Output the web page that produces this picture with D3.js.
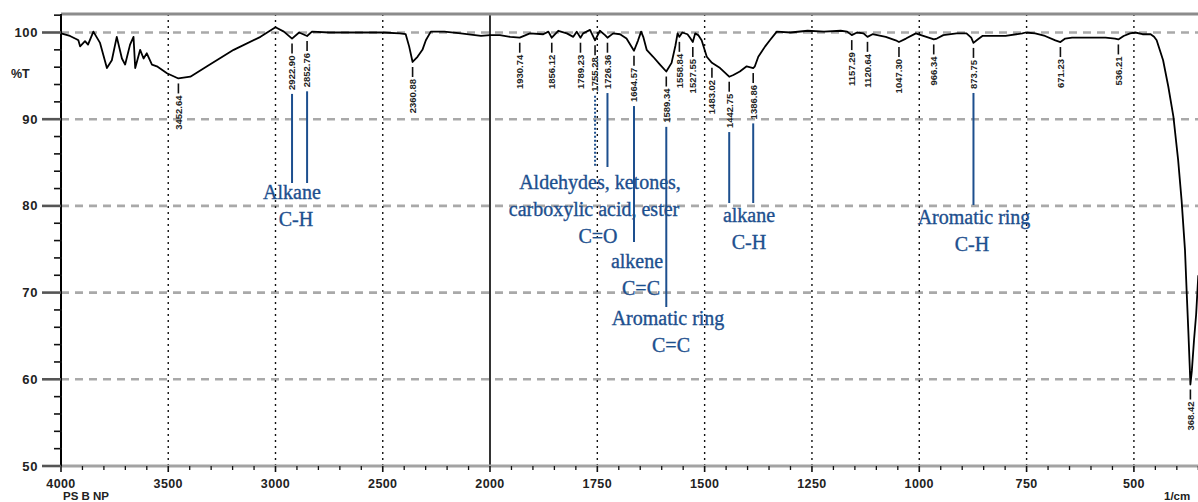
<!DOCTYPE html>
<html><head><meta charset="utf-8">
<script src="https://cdn.jsdelivr.net/npm/d3@7"></script>
<style>body{margin:0;background:#fff;overflow:hidden}svg{display:block}</style>
</head><body>
<svg id="chart" width="1198" height="502"></svg>
<script>
// ---------- DATA ----------
const wavenumbers = [4000,3958,3925,3919,3911,3888,3874,3849,3818,3786,3763,3740,3716,3701,3678,3662,3654,3631,3615,3600,3576,3553,3506,3452.64,3397,3319,3195,3070,3000,2961,2922.90,2890,2852.76,2830,2750,2600,2500,2420,2393,2377,2360.88,2338,2315,2299,2276,2213,2136,2042,2000,
1977,1953,1930.74,1907,1876,1864,1856.12,1841,1821,1806,1798,1789.23,1783,1767,1755.28,1744,1732,1726.36,1713,1697,1682,1664.57,1655,1648,1643,1635,1620,1604,1589.34,1577,1568,1563,1558.84,1552,1540,1534,1527.55,1522,1515,1507,1495,1483.02,1464,1442.75,1433,1418,1402,1386.86,1383,1375,1359,1348,1332,1300,1260,1222,1183,1168,1157.29,1145,1130,1120.64,1109,1078,1055,1047.30,1031,1008,996,971,966.34,959,944,913,890,879,873.75,864,853,799,760,752,730,707,683,671.23,660,644,605,566,544,536.21,524,509,497,480,461,453,447,432,420,408,397,389,381,377,373,370,368.42,365,360,355,350];
const transmittance = [99.9,99.6,99.2,99.1,98.4,99.0,98.6,100.1,98.8,95.9,96.8,99.5,97.0,96.3,98.6,99.5,95.9,98.0,97.0,97.6,96.3,96.1,95.3,94.7,94.9,96.1,98.0,99.5,100.6,100.1,99.3,100.0,99.6,100.1,100.0,100.0,100.0,99.9,99.8,98.4,96.6,97.2,98.0,99.1,100.1,100.1,99.9,99.6,99.7,
99.7,99.5,99.4,99.9,99.8,100.1,99.4,100.2,99.9,99.5,100.1,99.4,99.9,100.3,99.1,100.2,99.7,99.4,99.9,99.8,99.3,97.9,99.1,100.1,99.5,98.0,97.2,96.3,95.5,96.5,98.5,99.9,99.5,100.0,99.8,99.4,98.9,99.9,99.7,99.1,97.2,96.5,95.9,94.9,95.1,95.5,96.1,95.9,96.1,97.2,98.4,99.1,100.1,100.0,100.2,100.1,100.2,100.1,99.7,100.0,99.9,99.5,99.8,99.5,99.1,98.9,99.3,99.9,99.7,99.3,99.2,99.3,99.7,99.9,99.9,99.4,98.8,99.2,99.6,99.6,99.9,100.0,99.9,99.6,99.1,98.9,99.3,99.4,99.4,99.4,99.3,99.2,99.6,99.9,100.0,99.8,99.8,99.5,99.1,96.8,93.8,90.3,85.3,80.7,74.9,70.0,65.3,61.5,59.4,61.0,64.5,67.5,72.0];
const peakLabels = ["3452.64","2922.90","2852.76","2360.88","1930.74","1856.12","1789.23","1755.28","1726.36","1664.57","1589.34","1558.84","1527.55","1483.02","1442.75","1386.86","1157.29","1120.64","1047.30","966.34","873.75","671.23","536.21","368.42"];
const xTickValues = [4000,3500,3000,2500,2000,1750,1500,1250,1000,750,500];
const yTickValues = [50,60,70,80,90,100];
const annotationWn = [[2922.90,2852.76],[1755.28,1726.36],[1664.57],[1589.34],[1442.75,1386.86],[873.75]];
const annotationText = [["Alkane","C-H"],["Aldehydes, ketones,","carboxylic acid, ester","C=O"],["alkene","C=C"],["Aromatic ring","C=C"],["alkane","C-H"],["Aromatic ring","C-H"]];
const xAxisTitle = "1/cm";
const yAxisTitle = "%T";
const sampleName = "PS B NP";

(function(){
// ---------- LAYOUT ----------
const W = 1198;
const pLeft = 61, pRight = 1198.3, pTop = 14, pBottom = 466;
const annoLayout = [
  {cx:[292,296], y0:199, lineEnd:183, dotted:[false,false]},
  {cx:[600,594,598], y0:189, lineEnd:167, dotted:[true,false]},
  {cx:[637,641], y0:268, lineEnd:242, dotted:[false]},
  {cx:[668,671], y0:325, lineEnd:307, dotted:[false]},
  {cx:[749,749], y0:222, lineEnd:203, dotted:[false,false]},
  {cx:[974,972], y0:224, lineEnd:205, dotted:[false]}
];
const blue = "#1d4f8e";
const sans = "Liberation Sans, Arial, sans-serif";

const svg = d3.select("#chart");
const x = d3.scaleLinear().domain([4000,2000,350]).range([pLeft,490,pRight]);
const y = d3.scaleLinear().domain([50,100]).range([pBottom,32.5]);
const data = wavenumbers.map((w,i)=>({w, t: transmittance[i]}));
const valueAt = w => {
  for (let i=0;i<data.length-1;i++){
    const a=data[i], b=data[i+1];
    if (w<=a.w && w>=b.w){ const f=(a.w-w)/(a.w-b.w||1); return a.t+(b.t-a.t)*f; }
  }
  return data[data.length-1].t;
};

svg.append("g").selectAll("line").data(yTickValues.filter(v=>v>50)).join("line")
  .attr("x1",pLeft).attr("x2",W).attr("y1",d=>y(d)).attr("y2",d=>y(d))
  .attr("stroke","#a9a9a9").attr("stroke-width",2.6).attr("stroke-dasharray","8,6");

svg.append("g").selectAll("line").data(xTickValues.filter(v=>v!==4000 && v!==2000)).join("line")
  .attr("x1",d=>x(d)).attr("x2",d=>x(d)).attr("y1",pTop).attr("y2",pBottom)
  .attr("stroke","#111").attr("stroke-width",1.4).attr("stroke-dasharray","2,4");

svg.append("line").attr("x1",x(2000)).attr("x2",x(2000)).attr("y1",pTop).attr("y2",pBottom)
  .attr("stroke","#000").attr("stroke-width",1.6);

svg.append("line").attr("x1",pLeft).attr("x2",W).attr("y1",pTop).attr("y2",pTop)
  .attr("stroke","#8c8c8c").attr("stroke-width",3.2);

svg.append("line").attr("x1",pLeft).attr("x2",W).attr("y1",pBottom).attr("y2",pBottom)
  .attr("stroke","#a3a3a3").attr("stroke-width",3);

const xMinor = d3.range(350,4001,50).filter(v=> v>=2000 ? v%100===0 : true).filter(v=>!xTickValues.includes(v));
svg.append("g").selectAll("line").data(xMinor).join("line")
  .attr("x1",d=>x(d)).attr("x2",d=>x(d)).attr("y1",pBottom).attr("y2",pBottom+4)
  .attr("stroke","#111").attr("stroke-width",1.3);
svg.append("g").selectAll("line").data(xTickValues).join("line")
  .attr("x1",d=>x(d)).attr("x2",d=>x(d)).attr("y1",pBottom).attr("y2",pBottom+6)
  .attr("stroke","#111").attr("stroke-width",1.6);

svg.append("g").selectAll("text").data(xTickValues).join("text")
  .attr("x",d=>x(d)).attr("y",488).attr("text-anchor","middle")
  .attr("font-family",sans).attr("font-weight","bold").attr("letter-spacing",0.4)
  .attr("font-size",12.5).attr("fill","#222").text(d=>d);

svg.append("text").attr("x",63).attr("y",500).attr("font-family",sans)
  .attr("font-weight","bold").attr("font-size",11.5).attr("fill","#222").text(sampleName);
svg.append("text").attr("x",1164).attr("y",500).attr("font-family",sans)
  .attr("font-weight","bold").attr("font-size",11.5).attr("fill","#222").text(xAxisTitle);

svg.append("line").attr("x1",pLeft).attr("x2",pLeft).attr("y1",pTop).attr("y2",pBottom)
  .attr("stroke","#000").attr("stroke-width",2);
const yMinor = d3.range(50,102.1,2).filter(v=>v%10!==0);
svg.append("g").selectAll("line").data(yMinor).join("line")
  .attr("x1",pLeft-7).attr("x2",pLeft+1).attr("y1",d=>y(d)).attr("y2",d=>y(d))
  .attr("stroke","#111").attr("stroke-width",1.6);
svg.append("g").selectAll("line").data(yTickValues).join("line")
  .attr("x1",pLeft-19).attr("x2",pLeft).attr("y1",d=>y(d)).attr("y2",d=>y(d))
  .attr("stroke","#555").attr("stroke-width",2.6);
svg.append("g").selectAll("text").data(yTickValues).join("text")
  .attr("x",38).attr("y",d=>y(d)).attr("dy","0.35em").attr("text-anchor","end")
  .attr("font-family",sans).attr("font-weight","bold").attr("letter-spacing",0.6)
  .attr("font-size",13).attr("fill","#222").text(d=>d);
svg.append("text").attr("x",11).attr("y",78).attr("font-family",sans)
  .attr("font-weight","bold").attr("font-size",12.5).attr("fill","#222").text(yAxisTitle);

svg.append("path").datum(data)
  .attr("d",d3.line().x(d=>x(d.w)).y(d=>y(d.t)).curve(d3.curveLinear))
  .attr("fill","none").attr("stroke","#000").attr("stroke-width",1.8).attr("stroke-linejoin","round");

const labelEnd = {};
const pl = svg.append("g");
peakLabels.forEach(s=>{
  const w = +s, px = x(w), py = y(valueAt(w));
  pl.append("line").attr("x1",px).attr("x2",px).attr("y1",py+5).attr("y2",py+15)
    .attr("stroke","#111").attr("stroke-width",1.6);
  const t = pl.append("text").attr("transform",`translate(${px},${py+17}) rotate(-90)`)
    .attr("text-anchor","end").attr("dy","0.35em")
    .attr("font-family",sans).attr("font-weight","bold")
    .attr("font-size",9.5).attr("fill","#222").text(s);
  labelEnd[s] = py + 17 + t.node().getComputedTextLength();
});

const an = svg.append("g");
annotationWn.forEach((ws,i)=>{
  const L = annoLayout[i];
  ws.forEach((w,j)=>{
    const key = peakLabels.find(s=>+s===w);
    const y1 = (key ? labelEnd[key] : y(valueAt(w))) + 4;
    an.append("line").attr("x1",x(w)).attr("x2",x(w)).attr("y1",y1).attr("y2",L.lineEnd)
      .attr("stroke",blue).attr("stroke-width",2)
      .attr("stroke-dasharray", L.dotted[j] ? "2,2" : null);
  });
  annotationText[i].forEach((s,k)=>{
    an.append("text").attr("x",L.cx[k]).attr("y",L.y0 + k*27).attr("text-anchor","middle")
      .attr("font-family","Liberation Serif, Times New Roman, serif").attr("font-size",20)
      .attr("fill",blue).attr("stroke",blue).attr("stroke-width",0.35).text(s);
  });
});
})();
</script>
</body></html>
